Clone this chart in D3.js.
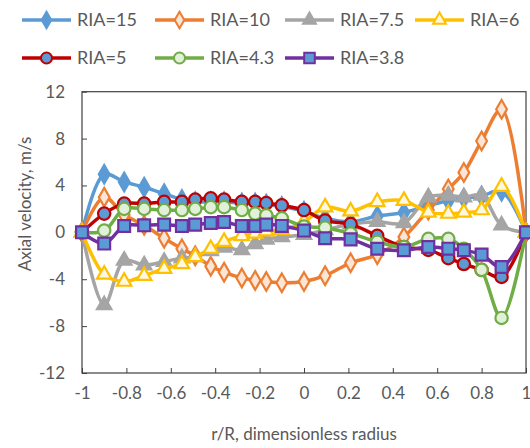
<!DOCTYPE html>
<html><head><meta charset="utf-8">
<script src="https://cdn.jsdelivr.net/npm/d3@7"></script>
<style>body{margin:0;background:#fff}svg{display:block}text{font-family:Lato,"Open Sans",sans-serif;fill:#595959}</style>
</head><body><svg id="c" width="530" height="448"></svg>
<script>
const radius = [-1,-0.9,-0.81,-0.72,-0.63,-0.55,-0.49,-0.42,-0.36,-0.28,-0.22,-0.17,-0.1,0,0.095,0.21,0.33,0.45,0.56,0.65,0.72,0.8,0.89,1];
const ria15  = [0,4.95,4.3,3.85,3.3,2.8,2.6,2.6,2.6,2.5,2.5,2.4,2.2,1.8,1.2,0.9,1.4,1.7,2.3,2.7,2.9,3.1,3.5,0];
const ria10  = [0,3.0,1.5,0.6,-0.5,-1.4,-2.0,-2.9,-3.4,-3.9,-4.1,-4.2,-4.3,-4.2,-3.7,-2.6,-1.9,-0.4,1.9,3.7,5.1,7.8,10.5,0];
const ria75  = [0,-6.2,-2.4,-2.8,-2.5,-2.2,-2.1,-1.6,-1.3,-1.5,-1.0,-0.6,-0.4,-0.2,0.2,0.7,0.9,0.8,3.0,3.15,3.0,3.15,0.6,0];
const ria6   = [0,-3.6,-4.2,-3.7,-3.1,-2.7,-2.1,-1.4,-0.8,-0.3,-0.1,0.1,0.2,0.9,2.15,1.8,2.6,2.7,1.7,1.6,1.7,1.9,3.9,0];
const ria5   = [0,1.6,2.45,2.45,2.6,2.6,2.8,2.9,2.8,2.6,2.6,2.5,2.3,1.9,1.0,0.7,-0.3,-1.25,-1.5,-2.2,-2.7,-3.2,-3.8,0];
const ria43  = [0,0.15,2.0,2.0,1.9,1.9,2.0,2.15,2.15,1.9,1.6,1.45,1.2,0.5,0.4,-0.1,-0.8,-1.25,-0.55,-0.55,-1.4,-3.2,-7.3,0];
const ria38  = [0,-0.96,0.54,0.6,0.66,0.54,0.66,0.8,0.88,0.54,0.54,0.66,0.55,0.15,-0.5,-0.6,-1.4,-1.53,-1.25,-1.39,-1.53,-1.9,-2.96,0];
const seriesNames = ["RIA=15","RIA=10","RIA=7.5","RIA=6","RIA=5","RIA=4.3","RIA=3.8"];
const xTicks = [-1,-0.8,-0.6,-0.4,-0.2,0,0.2,0.4,0.6,0.8,1];
const yTicks = [-12,-8,-4,0,4,8,12];
const xTitle = "r/R, dimensionless radius";
const yTitle = "Axial velocity, m/s";

const styles = [
  {line:"#5B9BD5", shape:"diamond", fill:"#5B9BD5", stroke:"#5B9BD5"},
  {line:"#ED7D31", shape:"diamond", fill:"#FBE5D6", stroke:"#ED7D31"},
  {line:"#A5A5A5", shape:"triangle", fill:"#A5A5A5", stroke:"#A5A5A5"},
  {line:"#FFC000", shape:"triangle", fill:"#FFF8E0", stroke:"#FFC000"},
  {line:"#C00000", shape:"circle", fill:"#5B9BD5", stroke:"#C00000"},
  {line:"#70AD47", shape:"circle", fill:"#E2F0D9", stroke:"#70AD47"},
  {line:"#7030A0", shape:"square", fill:"#5B9BD5", stroke:"#7030A0"}
];
const values = [ria15,ria10,ria75,ria6,ria5,ria43,ria38];

const svg = d3.select("#c");
const x = d3.scaleLinear().domain([-1,1]).range([82,526]);
const y = d3.scaleLinear().domain([-12,12]).range([373,91.7]);

const symMap = {diamond:d3.symbolDiamond, triangle:d3.symbolTriangle, circle:d3.symbolCircle, square:d3.symbolSquare};
const symSize = {diamond:100, triangle:90, circle:120, square:140};

const fmt = d => String(d);
const gx = svg.append("g").attr("transform",`translate(0,${y(-12)})`)
  .call(d3.axisBottom(x).tickValues(xTicks).tickSize(-5).tickPadding(14).tickFormat(fmt));
const gy = svg.append("g").attr("transform",`translate(${x(-1)},0)`)
  .call(d3.axisLeft(y).tickValues(yTicks).tickSize(-5).tickPadding(17).tickFormat(fmt));
[gx,gy].forEach(g=>{
  g.select(".domain").remove();
  g.selectAll(".tick line").attr("stroke","#404040").attr("stroke-width",1);
  g.selectAll(".tick text").style("font-size","17px").attr("fill","#595959").style("font-family","Lato");
});
gx.selectAll(".tick text").attr("dy","0.71em");
svg.append("rect").attr("x",x(-1)).attr("y",y(12)).attr("width",x(1)-x(-1)).attr("height",y(-12)-y(12))
  .attr("fill","none").attr("stroke","#404040").attr("stroke-width",1.2);

const line = d3.line().x((d,i)=>x(radius[i])).y(d=>y(d)).curve(d3.curveCatmullRom.alpha(0.5));
values.forEach((vals,k)=>{
  const st = styles[k];
  const g = svg.append("g");
  g.append("path").datum(vals).attr("d",line).attr("fill","none").attr("stroke",st.line).attr("stroke-width",3.5);
  g.selectAll("path.m").data(vals).join("path").attr("class","m")
    .attr("transform",(d,i)=>`translate(${x(radius[i])},${y(d)})`)
    .attr("d",d3.symbol().type(symMap[st.shape]).size(symSize[st.shape]))
    .attr("fill",st.fill).attr("stroke",st.stroke).attr("stroke-width",2.2);
});

const legPos = [[22,20],[155,20],[285,20],[415,20],[22,58],[155,58],[285,58]];
seriesNames.forEach((n,k)=>{
  const st = styles[k];
  const [lx,ly] = legPos[k];
  const g = svg.append("g");
  g.append("line").attr("x1",lx).attr("x2",lx+49).attr("y1",ly).attr("y2",ly).attr("stroke",st.line).attr("stroke-width",3.5);
  g.append("path").attr("transform",`translate(${lx+24.5},${ly})`)
    .attr("d",d3.symbol().type(symMap[st.shape]).size(symSize[st.shape]*0.8))
    .attr("fill",st.fill).attr("stroke",st.stroke).attr("stroke-width",2);
  g.append("text").attr("x",lx+55).attr("y",ly).attr("dy","0.36em").style("font-size","18px").text(n);
});

svg.append("text").attr("x",304).attr("y",440).attr("text-anchor","middle").style("font-size","17px").text(xTitle);
svg.append("text").attr("transform","translate(31,204) rotate(-90)").attr("text-anchor","middle").style("font-size","17px").text(yTitle);
</script></body></html>
